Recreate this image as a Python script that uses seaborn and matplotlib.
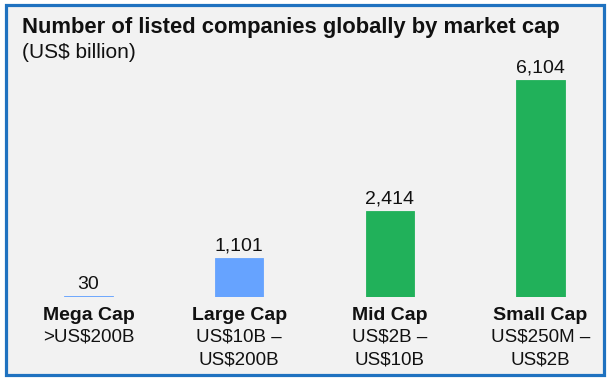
import matplotlib
matplotlib.use("Agg")
import matplotlib.pyplot as plt
import matplotlib.patches as mpatches
import matplotlib.transforms as mtransforms
import seaborn as sns
import pandas as pd

categories = ["Mega Cap", "Large Cap", "Mid Cap", "Small Cap"]
ranges = [">US$200B", "US$10B –\nUS$200B", "US$2B –\nUS$10B", "US$250M –\nUS$2B"]
values = [30, 1101, 2414, 6104]
value_labels = ["30", "1,101", "2,414", "6,104"]
bar_colors = ["#66A3FF", "#66A3FF", "#21B15A", "#21B15A"]

sns.set_theme(style="white")
plt.rcParams['font.family'] = ['Liberation Sans', 'DejaVu Sans']

W, H = 612, 382
fig = plt.figure(figsize=(W / 100, H / 100), dpi=100)
fig.patch.set_facecolor("white")

# background box with blue border
box = mpatches.Rectangle((5.5 / W, 1 - 375 / H), 598.5 / W, 370 / H,
                         transform=fig.transFigure, facecolor="#F2F2F2",
                         edgecolor="#1F72C0", linewidth=2.3, zorder=-10)
fig.patches.append(box)

# axes: baseline at y=297 px, category spacing ~150.7 px, first center at 88.5 px
unit = 150.7
x0_px = 88.5
left_px, right_px = 20, 600
base_px = 297
ymax = 7000
px_per_val = 217 / 6104
ax_h_px = ymax * px_per_val
ax = fig.add_axes([left_px / W, (H - base_px) / H, (right_px - left_px) / W, ax_h_px / H])
ax.patch.set_alpha(0)
ax.set_zorder(5)

df = pd.DataFrame({"cat": categories, "val": values})
sns.barplot(data=df, x="cat", y="val", hue="cat", palette=bar_colors,
            width=0.32, legend=False, ax=ax, saturation=1)
for p in ax.patches:
    p.set_edgecolor(p.get_facecolor())
    p.set_linewidth(0.6)

ax.set_xlim((left_px - x0_px) / unit, (right_px - x0_px) / unit)
ax.set_ylim(0, ymax)
for s in ax.spines.values():
    s.set_visible(False)
ax.set_xticks([])
ax.set_yticks([])
ax.set_xlabel("")
ax.set_ylabel("")

for i, (v, lab) in enumerate(zip(values, value_labels)):
    ax.annotate(lab, (i, v), xytext=(0, 5.3), textcoords="offset points",
                ha="center", va="baseline", fontsize=14, color="#111111",
                annotation_clip=False)

trans = mtransforms.blended_transform_factory(ax.transData, fig.transFigure)
for i, (c, r) in enumerate(zip(categories, ranges)):
    ax.text(i, 1 - 320 / H, c, transform=trans, ha="center", va="baseline",
            fontsize=14, fontweight="bold", color="#111111", clip_on=False)
    for k, line in enumerate(r.split("\n")):
        ax.text(i, 1 - (341.7 + 23.3 * k) / H, line, transform=trans,
                ha="center", va="baseline", fontsize=13.5, color="#111111",
                clip_on=False)

fig.text(22 / W, 1 - 33.5 / H, "Number of listed companies globally by market cap",
         ha="left", va="baseline", fontsize=15.8, fontweight="bold", color="#111111")
fig.text(22 / W, 1 - 58.3 / H, "(US$ billion)", ha="left", va="baseline",
         fontsize=15, color="#111111")

fig.savefig("out.png", dpi=100, facecolor=fig.get_facecolor())
